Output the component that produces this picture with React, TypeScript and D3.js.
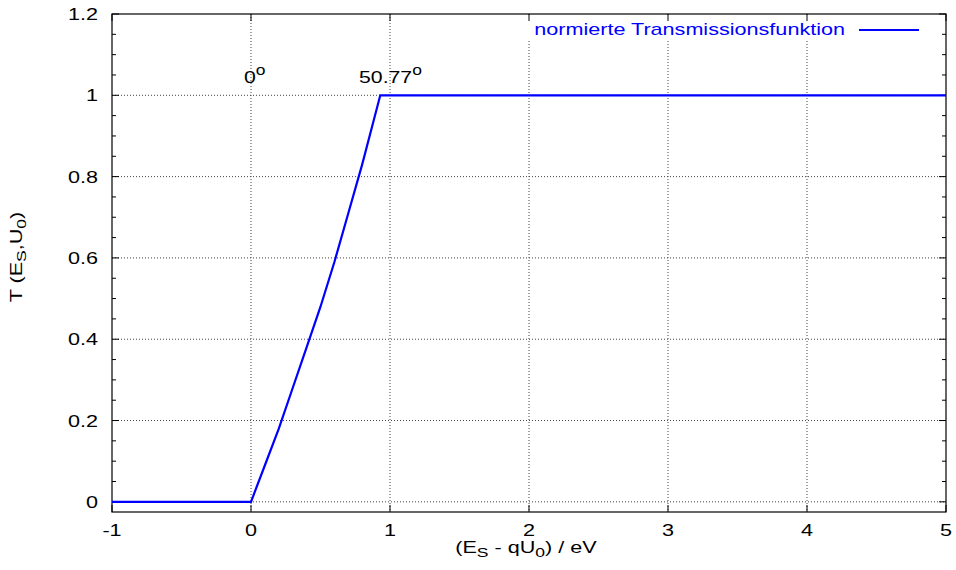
import React, { useRef, useEffect } from "react";
import { select, scaleLinear, line, range } from "d3";

// curve: flat at 0, rise until ~0.93 eV, flat at 1
const energy = [-1, 0, 0.1, 0.2, 0.3, 0.4, 0.5, 0.6, 0.7, 0.8, 0.93, 5];
const transmission = [0, 0, 0.09, 0.18, 0.28, 0.38, 0.48, 0.59, 0.71, 0.83, 1, 1];

const xTicks = [-1, 0, 1, 2, 3, 4, 5];
const yTicks = [0, 0.2, 0.4, 0.6, 0.8, 1, 1.2];
const yTickLabels = ["0", "0.2", "0.4", "0.6", "0.8", "1", "1.2"];

// angle annotations, left edge of each label in data units
const angleLabels = [
  { x: -0.05, text: "0" },
  { x: 0.777, text: "50.77" },
];
const legendLabel = "normierte Transmissionsfunktion";

const W = 956;
const H = 570;
const FONT = "'Liberation Sans', Arial, sans-serif";
const SX = 1.35; // the reference font is drawn wide

function TransmissionChart() {
  const svgRef = useRef<SVGSVGElement>(null);

  useEffect(() => {
    const svg = select(svgRef.current);
    svg.selectAll("*").remove();

    const left = 112;
    const right = 946;
    const top = 14;
    const bottom = 512;

    const xScale = scaleLinear().domain([-1, 5]).range([left, right]);
    const yScale = scaleLinear().domain([-0.025, 1.2]).range([bottom, top]);

    // wide text helper
    const txt = (parent: any, x: number, y: number, anchor: string, extra = "", sx = SX) =>
      parent
        .append("g")
        .attr("transform", `translate(${x},${y}) ${extra} scale(${sx},1)`)
        .append("text")
        .attr("text-anchor", anchor);

    // grid (dotted)
    const grid = svg.append("g").attr("stroke", "#444").attr("stroke-dasharray", "1,2").attr("stroke-width", 1);
    xTicks
      .filter((t) => t > -1 && t < 5)
      .forEach((t) => {
        grid
          .append("line")
          .attr("x1", xScale(t))
          .attr("x2", xScale(t))
          .attr("y1", top)
          .attr("y2", bottom);
      });
    yTicks
      .filter((t) => t < 1.2)
      .forEach((t) => {
        grid
          .append("line")
          .attr("x1", left)
          .attr("x2", right)
          .attr("y1", yScale(t))
          .attr("y2", yScale(t));
      });

    // legend background covers the grid
    svg.append("rect").attr("x", 524).attr("y", top + 1).attr("width", 402).attr("height", 24).attr("fill", "#fff");

    // ticks
    const ticks = svg.append("g").attr("stroke", "#000").attr("stroke-width", 1);
    xTicks.forEach((t) => {
      const x = xScale(t);
      ticks.append("line").attr("x1", x).attr("x2", x).attr("y1", bottom).attr("y2", bottom - 7);
      ticks.append("line").attr("x1", x).attr("x2", x).attr("y1", top).attr("y2", top + 7);
    });
    range(0, 1.2001, 0.05).forEach((t: number, i: number) => {
      const len = i % 4 === 0 ? 7 : 4;
      const y = yScale(t);
      ticks.append("line").attr("x1", left).attr("x2", left + len).attr("y1", y).attr("y2", y);
      ticks.append("line").attr("x1", right).attr("x2", right - len).attr("y1", y).attr("y2", y);
    });

    // frame
    svg
      .append("rect")
      .attr("x", left)
      .attr("y", top)
      .attr("width", right - left)
      .attr("height", bottom - top)
      .attr("fill", "none")
      .attr("stroke", "#000")
      .attr("stroke-width", 1.2);

    // tick labels
    const labels = svg.append("g").attr("font-family", FONT).attr("font-size", 16).attr("fill", "#000");
    xTicks.forEach((t) => {
      txt(labels, xScale(t), 536, "middle").text(String(t));
    });
    yTicks.forEach((t, i) => {
      txt(labels, 98, yScale(t) + 6, "end").text(yTickLabels[i]);
    });

    // axis titles
    const xTitle = txt(labels, 526, 553, "middle");
    xTitle.append("tspan").text("(E");
    xTitle.append("tspan").attr("font-size", 13).attr("dy", 4).text("S");
    xTitle.append("tspan").attr("dy", -4).text(" - qU");
    xTitle.append("tspan").attr("font-size", 13).attr("dy", 4).text("0");
    xTitle.append("tspan").attr("dy", -4).text(") / eV");

    const yTitle = txt(labels, 22, 257, "middle", "rotate(-90)");
    yTitle.append("tspan").text("T (E");
    yTitle.append("tspan").attr("font-size", 13).attr("dy", 4).text("S");
    yTitle.append("tspan").attr("dy", -4).text(",U");
    yTitle.append("tspan").attr("font-size", 13).attr("dy", 4).text("0");
    yTitle.append("tspan").attr("dy", -4).text(")");

    // angle annotations
    angleLabels.forEach((a) => {
      const t = txt(labels, xScale(a.x), 83, "start", "", 1.25).attr("font-size", 17);
      t.append("tspan").text(a.text);
      t.append("tspan").attr("font-size", 14).attr("dy", -8).text("o");
    });

    // legend
    txt(labels, 845, 35, "end").attr("fill", "#0000ff").text(legendLabel);
    svg
      .append("line")
      .attr("x1", 859)
      .attr("x2", 919)
      .attr("y1", 30)
      .attr("y2", 30)
      .attr("stroke", "#0000ff")
      .attr("stroke-width", 2.2);

    // curve
    const pts: [number, number][] = energy.map((e, i) => [e, transmission[i]]);
    const path = line<[number, number]>()
      .x((d) => xScale(d[0]))
      .y((d) => yScale(d[1]));
    svg
      .append("path")
      .attr("d", path(pts))
      .attr("fill", "none")
      .attr("stroke", "#0000ff")
      .attr("stroke-width", 2.2);
  }, []);

  return <svg ref={svgRef} width={W} height={H} style={{ position: "absolute", left: 0, top: 0, background: "#fff" }} />;
}

export default function App() {
  return <TransmissionChart />;
}
